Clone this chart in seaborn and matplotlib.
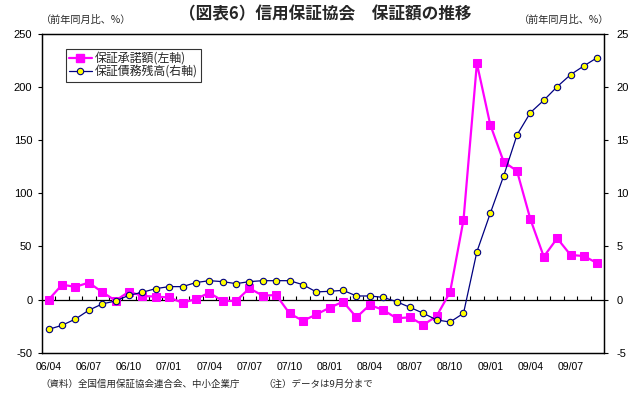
import numpy as np
import pandas as pd
import matplotlib
matplotlib.use("Agg")
import matplotlib.pyplot as plt
import seaborn as sns
from matplotlib.lines import Line2D

# ---- data ----
months = [f"{y:02d}/{m:02d}" for y in range(6, 10) for m in range(1, 13)][3:45]  # 06/04 .. 09/09
tick_labels = ["06/04", "06/07", "06/10", "07/01", "07/04", "07/07", "07/10",
               "08/01", "08/04", "08/07", "08/10", "09/01", "09/04", "09/07"]
guarantee_approved = [0, 14, 12, 16, 7, -1, 7.5, 3.4, 2.8, 2, -3, 0.5, 6.5, -1.3, -1.3,
                      10.6, 3.7, 4.3, -13, -20, -14, -7.6, -2, -16.7, -5, -9.8, -17.6,
                      -16.7, -23.9, -15.4, 7.2, 75, 222.4, 164.6, 129.8, 121, 75.6,
                      40.4, 57.7, 42, 41, 34.2]
guarantee_balance = [-2.8, -2.42, -1.83, -1.0, -0.41, -0.13, 0.4, 0.69, 1.03, 1.22, 1.22,
                     1.6, 1.78, 1.69, 1.5, 1.69, 1.78, 1.78, 1.78, 1.4, 0.72, 0.78, 0.87,
                     0.34, 0.34, 0.21, -0.2, -0.73, -1.29, -1.92, -2.11, -1.29, 4.5, 8.12,
                     11.63, 15.5, 17.6, 18.76, 20.04, 21.17, 22.0, 22.78]
label_left = "保証承諾額(左軸)"
label_right = "保証債務残高(右軸)"

df = pd.DataFrame({"month": months, "idx": np.arange(len(months)),
                   "approved": guarantee_approved, "balance": guarantee_balance})

sns.set_theme(style="white")
plt.rcParams["font.family"] = ["Noto Sans CJK JP", "DejaVu Sans"]
plt.rcParams["axes.unicode_minus"] = False

fig = plt.figure(figsize=(6.38, 3.94), dpi=100)
ax = fig.add_axes([42 / 638, 1 - 352.7 / 394, 562 / 638, 318.7 / 394])
ax2 = ax.twinx()

sns.lineplot(data=df, x="idx", y="approved", ax=ax, color="#FF00FF", lw=1.6,
             marker="s", markersize=5.3, markeredgecolor="#FF00FF", zorder=3)
sns.lineplot(data=df, x="idx", y="balance", ax=ax2, color="#000080", lw=0.9,
             marker="o", markersize=4.6, markerfacecolor="#FFFF00",
             markeredgecolor="#000080", markeredgewidth=0.8, zorder=3)

n = len(months)
ax.set_xlim(-0.5, n - 0.5)
ax.set_ylim(-50, 250)
ax2.set_ylim(-5, 25)

# zero line with category-boundary ticks
ax.axhline(0, color="black", lw=0.9, zorder=2)
ax.vlines(np.arange(0.5, n - 1, 1), 0, 3.2, color="black", lw=0.8, zorder=2)

tick_pos = [months.index(t) for t in tick_labels]
ax.set_xticks(tick_pos)
ax.set_xticklabels(tick_labels, fontsize=7.6, family="Liberation Sans")
ax.tick_params(axis="x", length=0, pad=6.5, colors="black")

ax.set_yticks(np.arange(-50, 251, 50))
ax.set_yticklabels([str(v) for v in range(-50, 251, 50)], fontsize=8, family="Liberation Sans")
ax.tick_params(axis="y", direction="out", length=3, width=0.8, pad=4, left=True, colors="black")
ax2.set_yticks(np.arange(-5, 26, 5))
ax2.set_yticklabels([str(v) for v in range(-5, 26, 5)], fontsize=8, family="Liberation Sans")
ax2.tick_params(axis="y", direction="out", length=3, width=0.8, pad=6, right=True, colors="black")

for a in (ax, ax2):
    a.set_xlabel("")
    a.set_ylabel("")
    a.grid(False)
    for s in a.spines.values():
        s.set_color("black")
        s.set_linewidth(0.9)

handles = [Line2D([], [], color="#FF00FF", lw=1.6, marker="s", markersize=5.3),
           Line2D([], [], color="#000080", lw=0.9, marker="o", markersize=4.6,
                  markerfacecolor="#FFFF00", markeredgecolor="#000080", markeredgewidth=0.8)]
leg = ax2.legend(handles, [label_left, label_right], loc="upper left",
                 bbox_to_anchor=((66 - 42) / 562, (352.7 - 49) / 318.7), borderaxespad=0,
                 fontsize=8.6, frameon=True, fancybox=False, handlelength=1.9,
                 handletextpad=0.3, borderpad=0.25, labelspacing=0.05)
leg.get_frame().set_edgecolor("black")
leg.get_frame().set_linewidth(0.8)

fig.text(325 / 638, 1 - 14 / 394, "（図表6）信用保証協会　保証額の推移", ha="center", va="center",
         fontsize=12, fontweight="bold")
fig.text(86 / 638, 1 - 20 / 394, "（前年同月比、%）", ha="center", va="center", fontsize=7.3)
fig.text(564 / 638, 1 - 20 / 394, "（前年同月比、%）", ha="center", va="center", fontsize=7.3)
fig.text(40 / 638, 1 - 384 / 394, "（資料）全国信用保証協会連合会、中小企業庁", ha="left", va="center", fontsize=6.8)
fig.text(263 / 638, 1 - 384 / 394, "（注）データは9月分まで", ha="left", va="center", fontsize=6.8)

fig.savefig("out.png", dpi=100, facecolor="white")
